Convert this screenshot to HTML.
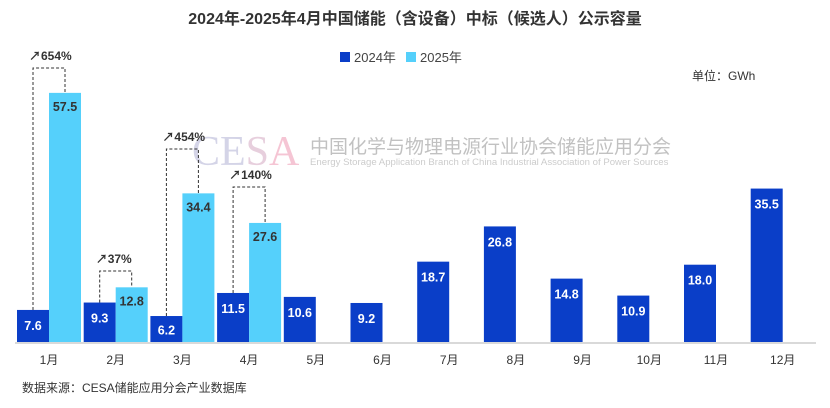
<!DOCTYPE html>
<html><head><meta charset="utf-8"><style>
body{margin:0;background:#fff;font-family:"Liberation Sans","Noto Sans CJK SC",sans-serif;}
svg{display:block}
</style></head><body>
<svg id="chart" width="830" height="408" xmlns="http://www.w3.org/2000/svg">
<text x="415" y="24" text-anchor="middle" font-size="16" font-weight="bold" fill="#333">2024年-2025年4月中国储能（含设备）中标（候选人）公示容量</text>
<g>
<rect x="340" y="52" width="10" height="10" fill="#0a3ec8"/>
<text x="354" y="62" font-size="13" fill="#444">2024年</text>
<rect x="406" y="52" width="10" height="10" fill="#55d0fb"/>
<text x="420" y="62" font-size="13" fill="#444">2025年</text>
</g>
<text x="692" y="80" font-size="12" fill="#333">单位：GWh</text>
<g opacity="0.6">
<text x="192" y="165" font-family="Liberation Serif,serif" font-size="42"><tspan fill="#b8b8d8">CE</tspan><tspan fill="#d8b0c8">S</tspan><tspan fill="#f0a0b8">A</tspan></text>
<text x="310" y="153" font-size="19" fill="#999">中国化学与物理电源行业协会储能应用分会</text>
<text x="310" y="165" font-size="9.6" fill="#aaa">Energy Storage Application Branch of China Industrial Association of Power Sources</text>
</g>
<g id="bars"></g>
<line x1="15" y1="343" x2="816" y2="343" stroke="#d9d9d9" stroke-width="2"/>
<text x="22" y="392" font-size="12" fill="#333">数据来源：CESA储能应用分会产业数据库</text>
</svg>
<script>
const categories=["1月","2月","3月","4月","5月","6月","7月","8月","9月","10月","11月","12月"];
const values2024=[7.6,9.3,6.2,11.5,10.6,9.2,18.7,26.8,14.8,10.9,18.0,35.5];
const values2025=[57.5,12.8,34.4,27.6];
const growthLabels=["654%","37%","454%","140%"];
const bracketHeights=[68,271,149,187];
const NS="http://www.w3.org/2000/svg";
const g=document.getElementById('bars');
const base=343, scale=4.35, x0=49, step=66.7, bw=32;
const xC=i=>x0+i*step;
const yV=v=>base-v*scale;
function mk(t,a){const e=document.createElementNS(NS,t);for(const k in a)e.setAttribute(k,a[k]);g.appendChild(e);return e;}
categories.forEach((c,i)=>{
  const cx=xC(i);
  const v=values2024[i];
  const r=mk('rect',{x:cx-bw,y:yV(v),width:bw,height:v*scale,fill:'#0a3ec8'});
  
  
  const t=mk('text',{x:cx-bw/2,y:yV(v)+(v*scale>30?20:v*scale/2+5),'text-anchor':'middle','font-size':12.5,'font-weight':'bold',fill:'#fff'});
  t.textContent=v.toFixed(1);
  
  
  const l=mk('text',{x:cx,y:364,'text-anchor':'middle','font-size':12,fill:'#333'});
  l.textContent=c;
  
  
  if(i<values2025.length){
    const w=values2025[i];
    const r2=mk('rect',{x:cx,y:yV(w),width:bw,height:w*scale,fill:'#55d0fb'});
    
    
    const t2=mk('text',{x:cx+bw/2,y:yV(w)+18,'text-anchor':'middle','font-size':12.5,'font-weight':'bold',fill:'#333'});
    t2.textContent=w.toFixed(1);
    
    
    const top=bracketHeights[i];
    const p=mk('path',{d:`M${cx-bw/2} ${yV(v)} V${top} H${cx+bw/2} V${yV(w)}`,fill:'none',stroke:'#333','stroke-dasharray':'3,2','stroke-width':1});
    
    
    const gt=mk('text',{x:cx-bw/2-4,y:top-8,'font-size':12,'font-weight':'bold',fill:'#333'});
    gt.textContent='↗'+growthLabels[i];
    
    
  }
});
</script>
</body></html>
